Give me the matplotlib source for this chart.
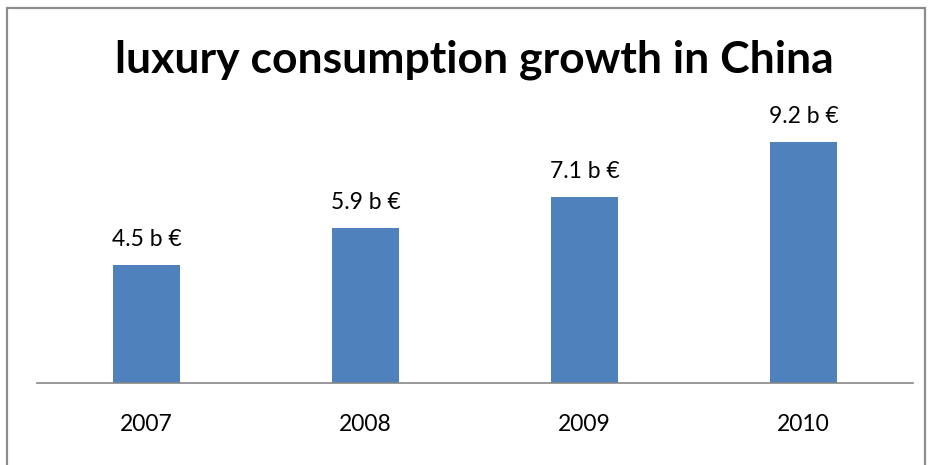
import matplotlib
matplotlib.use("Agg")
import matplotlib.pyplot as plt
from matplotlib.patches import Rectangle

years = ["2007", "2008", "2009", "2010"]
values = [4.5, 5.9, 7.1, 9.2]
labels = ["4.5 b €", "5.9 b €", "7.1 b €", "9.2 b €"]
title = "luxury consumption growth in China"

W, H = 931, 465
fig = plt.figure(figsize=(W / 100, H / 100), dpi=100)
fig.patch.set_facecolor("white")

# outer border
fig.patches.append(Rectangle((7 / W, -0.05), (925 - 7) / W, (H - 8) / H + 0.05,
                             transform=fig.transFigure, fill=False,
                             edgecolor="#8c8c8c", linewidth=1.6))

ax = fig.add_axes([37 / W, (H - 383) / H, (913 - 37) / W, 262 / H])
x = list(range(len(years)))
ax.bar(x, values, width=0.306, color="#4F81BD", zorder=2)
ax.set_xlim(-0.5, 3.5)
ax.set_ylim(0, 10)
for s in ["top", "right", "left"]:
    ax.spines[s].set_visible(False)
ax.spines["bottom"].set_color("#868686")
ax.spines["bottom"].set_linewidth(1.2)
ax.set_yticks([])
ax.set_xticks(x)
ax.set_xticklabels(years, fontsize=16.5, family="Lato")
ax.tick_params(axis="x", length=0, pad=22)

for xi, v, lab in zip(x, values, labels):
    ax.annotate(lab, (xi, v), xytext=(0, 11), textcoords="offset points",
                ha="center", va="bottom", fontsize=16.5, family="Lato")

fig.text(474 / W, 1 - 60 / H, title, ha="center", va="center",
         fontsize=32, fontweight="bold", family="Lato")

fig.savefig("out.png", dpi=100)
